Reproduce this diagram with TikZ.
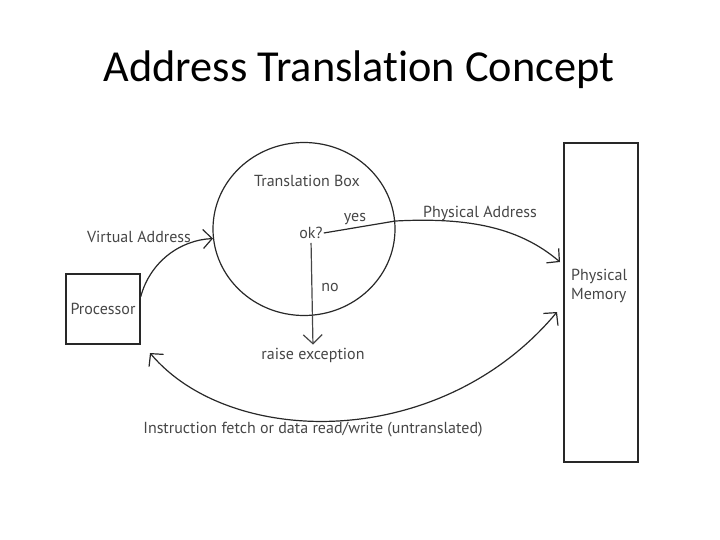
\documentclass[tikz,border=0pt]{standalone}
\usepackage{fontspec}
\setmainfont{PT Sans}
\newfontfamily\titlefont[Ligatures=NoCommon]{Carlito}
\usetikzlibrary{arrows.meta,positioning,shapes.geometric}
\definecolor{inkgray}{RGB}{40,40,40}
\definecolor{txtgray}{RGB}{70,70,70}

\begin{document}
\begin{tikzpicture}[x=1pt, y=-1pt,
  unit/.style={draw=inkgray, line width=1.4pt, minimum width=74pt, minimum height=70pt,
               inner sep=0pt, font=\fontsize{16}{18}\selectfont, text=txtgray},
  memory/.style={draw=inkgray, line width=1.4pt, minimum width=74pt, minimum height=319pt,
                 inner sep=0pt},
  tbox/.style={draw=inkgray, line width=1.2pt, ellipse, minimum width=182pt,
               minimum height=173pt, inner sep=0pt},
  lbl/.style={font=\fontsize{16}{19}\selectfont, text=txtgray, inner sep=1pt},
  arrow/.style={-{Straight Barb[length=9pt,width=19pt]}, inkgray, line width=1.2pt},
  twoway/.style={{Straight Barb[length=9pt,width=19pt]}-{Straight Barb[length=9pt,width=19pt]},
                 inkgray, line width=1.2pt},
]
\useasboundingbox (0,0) rectangle (720,540);

% ---- Title ----
\node[font=\titlefont\fontsize{44.3}{48}\selectfont] (title) at (359,70)
  {Address Translation Concept};

% ---- Processor ----
\node[unit] (proc) at (103,309) {Processor};

% ---- Translation box ----
\node[tbox] (tb) at (304,229) {};
\node[lbl] (tbname) at (307,181) {Translation Box};
\node[lbl] (ok) at (311,233) {ok?};
\node[lbl] (yes) at (355,219) {yes};
\node[lbl] (no) at (330,287) {no};
\node[lbl] (exc) at (313,355) {raise exception};

% ---- Physical memory ----
\node[memory] (mem) at (601,302.5) {};
\node[lbl, align=left, anchor=north west] (memname) at (570,268)
  {Physical\\Memory};

% ---- Free ends at the memory ----
\coordinate (pa) at (560,262);
\coordinate (rw) at (557,312);
\coordinate (back) at (150,353);

% ---- Connections ----
% processor -> translation box
\draw[arrow] (proc.18) .. controls (150,262) and (180,240) .. (tb.186);
\node[lbl] (va) at (139,237) {Virtual Address};

% ok? -> physical memory
\draw[arrow] (ok.east) -- (tb.5) .. controls (470,217) and (520,228) .. (pa);
\node[lbl] (palbl) at (480,213) {Physical Address};

% ok? -> exception
\draw[arrow, draw=txtgray, shorten <=3pt, shorten >=2pt] (ok.south) -- (exc.north);

% untranslated access
\draw[twoway] (back) .. controls (230,448) and (440,452) .. (rw);
\node[lbl] (untr) at (313,430) {Instruction fetch or data read/write (untranslated)};

\end{tikzpicture}
\end{document}
